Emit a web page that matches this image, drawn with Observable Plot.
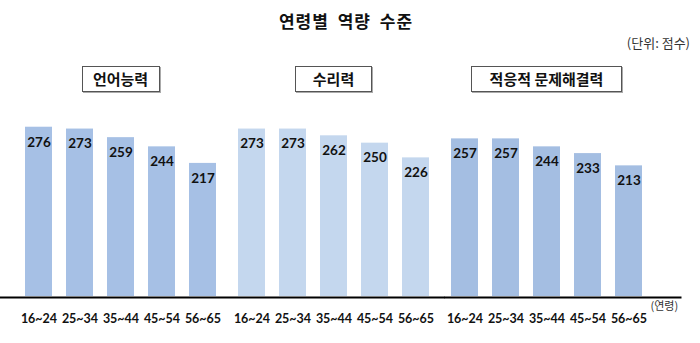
<!DOCTYPE html>
<html>
<head>
<meta charset="utf-8">
<script src="https://cdn.jsdelivr.net/npm/d3@7"></script>
<script src="https://cdn.jsdelivr.net/npm/@observablehq/plot@0.6"></script>
<style>
  body { margin: 0; background: #fff; }
  #wrap { width: 700px; height: 343px; position: relative; overflow: hidden; font-family: "Noto Sans CJK KR", sans-serif; color: #111; }
  #header { position: relative; width: 700px; height: 100px; }
  .title { position: absolute; left: 0; width: 692px; top: 8px; height: 26px; line-height: 26px; text-align: center; font-size: 17px; font-weight: bold; letter-spacing: 1px; word-spacing: 4px; }
  .unit { position: absolute; right: 10px; top: 34px; height: 18px; line-height: 18px; font-size: 13px; color: #333; }
  .box { position: absolute; top: 66px; height: 26px; box-sizing: border-box; line-height: 24px; border: 1px solid #555; box-shadow: 1px 1px 0 #aaa; text-align: center; font-size: 15px; font-weight: bold; background: #fff; white-space: nowrap; }
  #chart svg { display: block; }
</style>
</head>
<body>
<div id="wrap">
  <div id="header"></div>
  <div id="chart"></div>
</div>
<script>
const title = "연령별 역량 수준";
const unitLabel = "(단위: 점수)";
const xUnitLabel = "(연령)";
const groups = ["언어능력", "수리력", "적응적 문제해결력"];
const ages = ["16~24", "25~34", "35~44", "45~54", "56~65"];
const literacy = [276, 273, 259, 244, 217];
const numeracy = [273, 273, 262, 250, 226];
const problemSolving = [257, 257, 244, 233, 213];
const groupColors = ["#a6c0e5", "#c4d7ee", "#a4bee2"];

const series = [literacy, numeracy, problemSolving];
const rows = groups.flatMap((g, i) => ages.map((a, j) => ({group: g, age: a, value: series[i][j]})));

// baseline spans past each facet to form one continuous axis line
const ruleInsets = [[-18, -8], [0, -8.5], [0, -32.5]];

const chart = Plot.plot({
  width: 700,
  height: 243,
  marginTop: 12,
  marginBottom: 47,
  marginLeft: 18,
  marginRight: 50.5,
  style: {fontFamily: "Lato, 'Noto Sans CJK KR', sans-serif", background: "white", overflow: "visible"},
  fx: {domain: groups, paddingInner: 0.0375, paddingOuter: 0, axis: null, label: null},
  x: {domain: ages, paddingInner: 0.34, paddingOuter: 0.17, label: null},
  y: {domain: [0, 300], axis: null},
  color: {domain: groups, range: groupColors},
  marks: [
    Plot.barY(rows, {fx: "group", x: "age", y: "value", fill: "group"}),
    Plot.text(rows, {fx: "group", x: "age", y: "value", text: d => String(d.value), dy: 15, fontSize: 13.5, fontWeight: "bold", fill: "#111", lineAnchor: "middle"}),
    ...groups.map((g, i) => Plot.ruleY([0], {fx: () => g, stroke: "#000", strokeWidth: 2, dy: 1, insetLeft: ruleInsets[i][0], insetRight: ruleInsets[i][1]})),
    Plot.axisX({tickSize: 0, tickPadding: 17.5, fontSize: 12.5, fontWeight: "bold", fill: "#111", label: null}),
    Plot.text([groups[2]], {fx: d => d, frameAnchor: "bottom-right", text: () => xUnitLabel, textAnchor: "start", lineAnchor: "top", dx: 1, dy: 6, fontSize: 11, fill: "#333", fontFamily: "'Noto Sans CJK KR', sans-serif"})
  ]
});
document.getElementById("chart").appendChild(chart);

// header: title, unit and group boxes centered over each facet
const header = document.getElementById("header");
const t = document.createElement("div"); t.className = "title"; t.textContent = title; header.appendChild(t);
const u = document.createElement("div"); u.className = "unit"; u.textContent = unitLabel; header.appendChild(u);
const fx = chart.scale("fx");
const boxWidths = [78, 77, 151];
groups.forEach((g, i) => {
  const cx = fx.apply(g) + fx.bandwidth / 2;
  const b = document.createElement("div");
  b.className = "box";
  b.textContent = g;
  b.style.width = boxWidths[i] + "px";
  b.style.left = (cx - boxWidths[i] / 2) + "px";
  header.appendChild(b);
});
</script>
</body>
</html>
